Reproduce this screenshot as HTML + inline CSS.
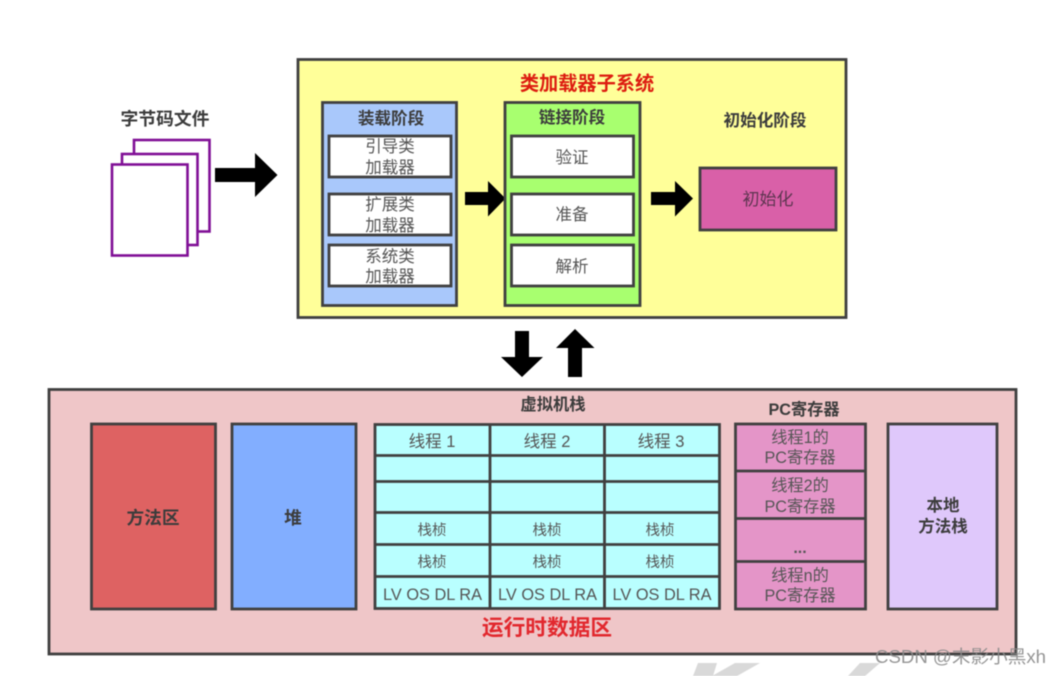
<!DOCTYPE html>
<html>
<head>
<meta charset="utf-8">
<style>
html,body{margin:0;padding:0;background:#fff;width:1061px;height:676px;overflow:hidden}
svg{display:block;filter:blur(.6px)}
text{font-family:"Liberation Sans","Noto Sans CJK SC",sans-serif;text-anchor:middle;fill:#555}
.b{font-weight:700;fill:#3c3c3c}
.r{stroke:#404040;stroke-width:2.8}
</style>
</head>
<body>
<svg width="1061" height="676" viewBox="0 0 1061 676" xmlns="http://www.w3.org/2000/svg">
<rect width="1061" height="676" fill="#fff"/>

<!-- faint background marks -->
<polygon points="698,663 717,663 713,676 693,676" fill="#d9d9d9"/>
<polygon points="735,663 760,663 737,676 712,676" fill="#d9d9d9"/>
<polygon points="860,663 880,663 865,676 848,676" fill="#d9d9d9"/>

<!-- byte-code files -->
<text x="165" y="125" font-size="17.800" class="b">字节码文件</text>
<g fill="#fff" stroke="#800f96" stroke-width="2.6">
<rect x="134" y="140" width="75.500" height="91.500"/>
<rect x="122" y="154" width="75.500" height="91"/>
<rect x="112" y="164.500" width="75.500" height="91"/>
</g>

<polygon points="215,168 255,168 255,153 277.500,175 255,197 255,182 215,182" fill="#000"/>

<!-- class loader subsystem -->
<rect x="298" y="59.500" width="548" height="258" fill="#ffff99" class="r"/>
<text x="587" y="90" font-size="19.200" font-weight="700" style="fill:#dd1c10">类加载器子系统</text>

<rect x="322.500" y="102.500" width="134" height="203" fill="#a9c8fb" class="r"/>
<text x="391" y="124" font-size="16.600" class="b">装载阶段</text>
<g fill="#fff" class="r">
<rect x="329" y="136" width="122" height="41"/>
<rect x="329" y="194" width="122" height="41"/>
<rect x="329" y="245" width="122" height="41"/>
</g>
<text x="390" y="152" font-size="16.500">引导类</text>
<text x="390" y="173" font-size="16.500">加载器</text>
<text x="390" y="210" font-size="16.500">扩展类</text>
<text x="390" y="231" font-size="16.500">加载器</text>
<text x="390" y="262" font-size="16.500">系统类</text>
<text x="390" y="282" font-size="16.500">加载器</text>

<polygon points="465,192 488,192 488,181 505.500,198.500 488,216.500 488,205 465,205" fill="#000"/>

<rect x="505" y="102.500" width="135" height="203" fill="#a8ff6f" class="r"/>
<text x="572" y="123" font-size="16.600" class="b">链接阶段</text>
<g fill="#fff" class="r">
<rect x="511.500" y="136" width="122" height="41"/>
<rect x="511.500" y="194" width="122" height="41"/>
<rect x="511.500" y="245" width="122" height="41"/>
</g>
<text x="572" y="163" font-size="16.500">验证</text>
<text x="572" y="220" font-size="16.500">准备</text>
<text x="572" y="272" font-size="16.500">解析</text>

<polygon points="651,192 675,192 675,181 693,198.500 675,216.500 675,205 651,205" fill="#000"/>

<text x="765" y="126" font-size="16.600" class="b">初始化阶段</text>
<rect x="700" y="168" width="136" height="62" fill="#d960a8" class="r"/>
<text x="768" y="205" font-size="17" style="fill:#5d3550">初始化</text>

<!-- vertical arrows -->
<polygon points="515,331 529,331 529,357 543,357 522,377 501,357 515,357" fill="#000"/>
<polygon points="568,377 582,377 582,348 594.500,348 575,329 556,348 568,348" fill="#000"/>

<!-- runtime data area -->
<rect x="49" y="389.500" width="967" height="264.500" fill="#efc6c8" class="r"/>
<text x="553" y="410" font-size="16.300" class="b">虚拟机栈</text>
<text x="804" y="415" font-size="16.200" class="b">PC寄存器</text>

<rect x="91.500" y="424" width="124" height="185" fill="#de6262" class="r"/>
<text x="153" y="524" font-size="17.700" class="b">方法区</text>
<rect x="232" y="424" width="124" height="185" fill="#82aeff" class="r"/>
<text x="293" y="524" font-size="17.700" class="b">堆</text>

<!-- thread table -->
<rect x="375" y="424.500" width="344.500" height="184" fill="#b9ffff" class="r"/>
<g class="r" fill="none">
<path d="M490,424.500V608.500M604.500,424.500V608.500"/>
<path d="M375,455.500H719.500M375,481.500H719.500M375,512.500H719.500M375,544.500H719.500M375,576.500H719.500"/>
</g>
<text x="432" y="447" font-size="16.500">线程 1</text>
<text x="547" y="447" font-size="16.500">线程 2</text>
<text x="661" y="447" font-size="16.500">线程 3</text>
<text x="432" y="535" font-size="14.500">栈桢</text>
<text x="547" y="535" font-size="14.500">栈桢</text>
<text x="660" y="535" font-size="14.500">栈桢</text>
<text x="432" y="567" font-size="14.500">栈桢</text>
<text x="547" y="567" font-size="14.500">栈桢</text>
<text x="660" y="567" font-size="14.500">栈桢</text>
<text x="432.500" y="600" font-size="17" textLength="99" lengthAdjust="spacingAndGlyphs">LV OS DL RA</text>
<text x="547.500" y="600" font-size="17" textLength="99" lengthAdjust="spacingAndGlyphs">LV OS DL RA</text>
<text x="662" y="600" font-size="17" textLength="99" lengthAdjust="spacingAndGlyphs">LV OS DL RA</text>

<!-- pc registers -->
<rect x="735.500" y="424" width="130" height="185" fill="#e495c8" class="r"/>
<path d="M735.500,471H865.500M735.500,518.500H865.500M735.500,561.500H865.500" class="r" fill="none"/>
<text x="800" y="443" font-size="16.200">线程1的</text>
<text x="800" y="463" font-size="16.200">PC寄存器</text>
<text x="800" y="491" font-size="16.200">线程2的</text>
<text x="800" y="512" font-size="16.200">PC寄存器</text>
<text x="800" y="553" font-size="16" font-weight="700">...</text>
<text x="800" y="581" font-size="16.200">线程n的</text>
<text x="800" y="601" font-size="16.200">PC寄存器</text>

<rect x="888" y="424" width="109" height="185" fill="#dfc8fb" class="r"/>
<text x="943" y="511" font-size="16.500" class="b">本地</text>
<text x="943" y="532" font-size="16.500" class="b">方法栈</text>

<text x="547" y="635" font-size="21.700" font-weight="700" style="fill:#e2282e">运行时数据区</text>

<!-- watermark -->
<text x="960.500" y="663" font-size="18" style="fill:#8a8a8a;opacity:.9" textLength="171" lengthAdjust="spacingAndGlyphs">CSDN @末影小黑xh</text>
</svg>
</body>
</html>
